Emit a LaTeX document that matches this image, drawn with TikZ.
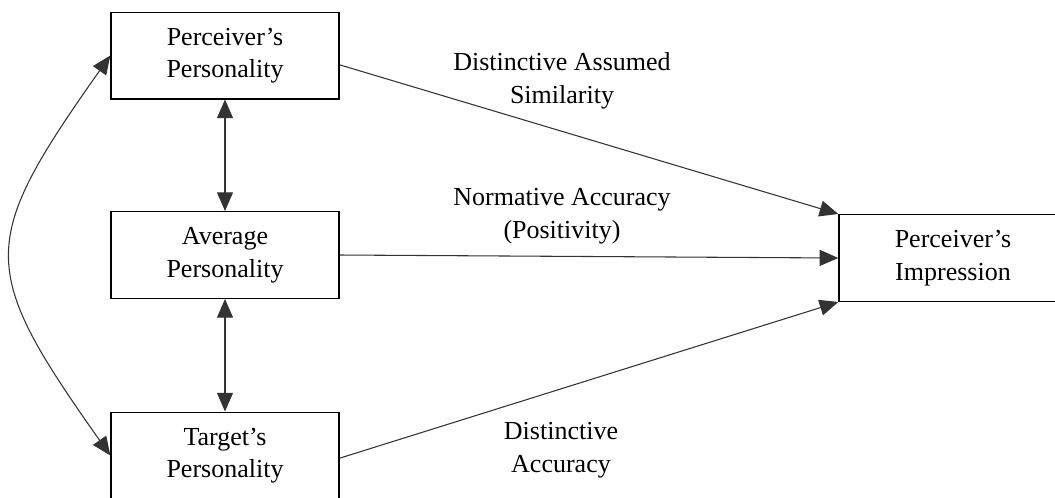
\documentclass[tikz,border=0pt]{standalone}
\usepackage{fontspec}
\setmainfont{Liberation Serif}
\usetikzlibrary{arrows.meta}
\tikzset{
	factor/.style={draw=black, line width=1pt, minimum width=171pt, minimum height=65pt, align=center, inner sep=0pt},
	pathlabel/.style={align=center, inner sep=0pt},
	link/.style={draw=black!80, line width=0.8pt, -{Triangle[length=14pt,width=12pt]}},
	twoway/.style={draw=black!80, line width=0.8pt, {Triangle[length=14pt,width=12pt]}-{Triangle[length=14pt,width=12pt]}}
}

\begin{document}
\begin{tikzpicture}[x=0.75pt, y=-0.75pt, font=\fontsize{19.5}{24.5}\selectfont]
			%%%%% START %%%%%
			
			\useasboundingbox (0, 0) rectangle (1055, 497);
			
			\node[factor] (perc) at (225, 55.5) {Perceiver's\\Personality};
			\node[factor] (avg) at (225, 255) {Average\\Personality};
			\node[factor] (targ) at (225, 455.5) {Target's\\Personality};
			\node[factor] (impr) at (953, 258) {Perceiver's\\Impression};
			
			\draw[twoway] (perc.south) -- (avg.north);
			\draw[twoway] (avg.south) -- (targ.north);
			\draw[twoway] (perc.west) .. controls (-22, 243) and (-22, 268) .. (targ.west);
			
			\draw[link] ([yshift=-7pt]perc.east) -- (impr.north west);
			\draw[link] (avg.east) -- (impr.west);
			\draw[link] ([yshift=-2pt]targ.east) -- (impr.south west);
			
			\node[pathlabel] (sim) at (562, 81) {Distinctive Assumed\\Similarity};
			\node[pathlabel] (norm) at (562, 216.5) {Normative Accuracy\\(Positivity)};
			\node[pathlabel] (dist) at (561, 450) {Distinctive\\Accuracy};
			
			%%%%% END %%%%%
\end{tikzpicture}
\end{document}
